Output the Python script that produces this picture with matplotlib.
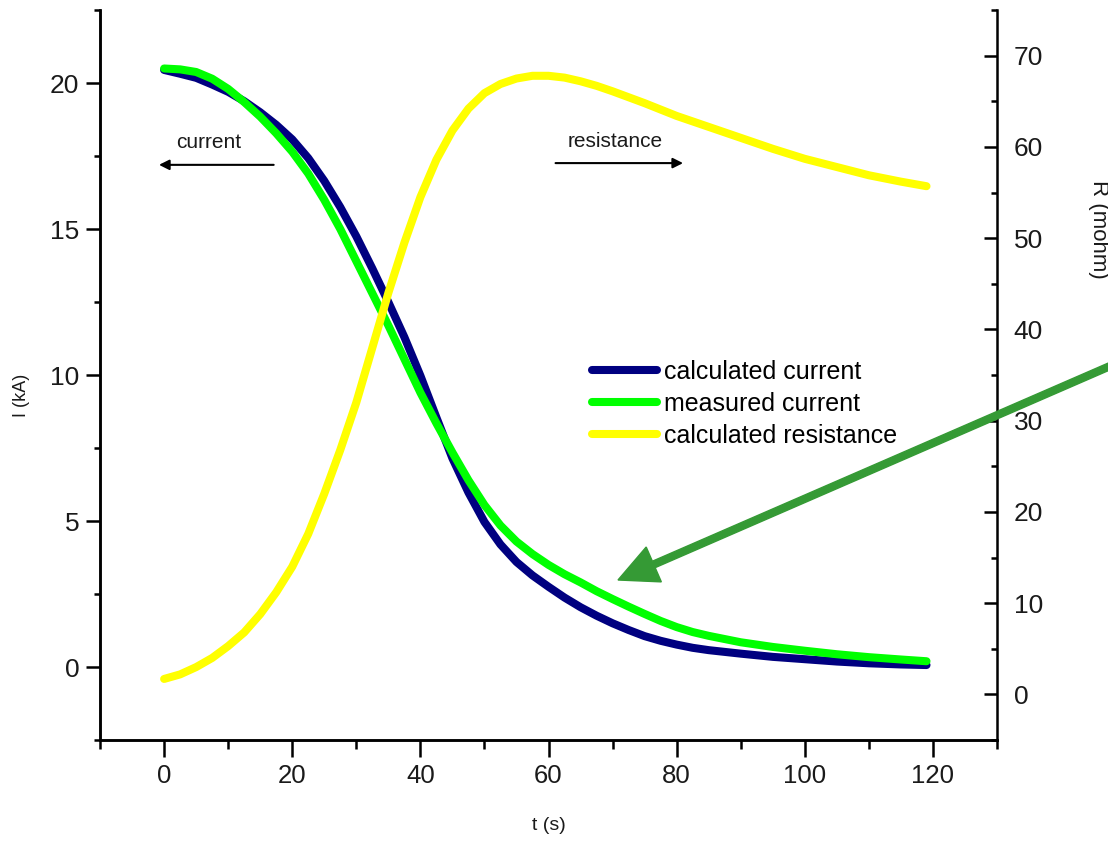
import matplotlib
matplotlib.use('Agg')
import matplotlib.pyplot as plt
from matplotlib.patches import FancyArrow
from matplotlib.transforms import IdentityTransform
from matplotlib.ticker import MultipleLocator

plt.rcParams['font.family'] = ['Liberation Sans', 'DejaVu Sans']

# ---- data ----
t_calc = [0, 2.5, 5, 7.5, 10, 12.5, 15, 17.5, 20, 22.5, 25, 27.5, 30, 32.5, 35,
          37.5, 40, 42.5, 45, 47.5, 50, 52.5, 55, 57.5, 60, 62.5, 65, 67.5, 70,
          72.5, 75, 77.5, 80, 82.5, 85, 90, 95, 100, 105, 110, 115, 119]
i_calc = [20.45, 20.32, 20.18, 19.95, 19.7, 19.38, 19.0, 18.57, 18.07, 17.43,
          16.65, 15.75, 14.75, 13.65, 12.5, 11.3, 9.98, 8.55, 7.15, 5.98, 4.97,
          4.2, 3.6, 3.14, 2.75, 2.38, 2.05, 1.76, 1.5, 1.27, 1.06, 0.9, 0.77,
          0.66, 0.58, 0.46, 0.35, 0.27, 0.19, 0.13, 0.09, 0.07]

t_meas = [0, 2.5, 5, 7.5, 10, 12.5, 15, 17.5, 20, 22.5, 25, 27.5, 30, 32.5, 35,
          37.5, 40, 42.5, 45, 47.5, 50, 52.5, 55, 57.5, 60, 62.5, 65, 67.5, 70,
          72.5, 75, 77.5, 80, 82.5, 85, 90, 95, 100, 105, 110, 115, 119]
i_meas = [20.5, 20.47, 20.38, 20.15, 19.8, 19.35, 18.85, 18.28, 17.65, 16.9,
          16.0, 15.0, 13.9, 12.8, 11.7, 10.55, 9.4, 8.35, 7.35, 6.4, 5.55, 4.85,
          4.3, 3.87, 3.5, 3.18, 2.9, 2.6, 2.33, 2.07, 1.82, 1.58, 1.37, 1.2,
          1.07, 0.85, 0.69, 0.56, 0.44, 0.34, 0.26, 0.2]

t_res = [0, 2.5, 5, 7.5, 10, 12.5, 15, 17.5, 20, 22.5, 25, 27.5, 30, 32.5, 35,
         37.5, 40, 42.5, 45, 47.5, 50, 52.5, 55, 57.5, 60, 62.5, 65, 67.5, 70,
         75, 80, 85, 90, 95, 100, 105, 110, 115, 119]
r_res = [1.7, 2.2, 3.0, 4.0, 5.3, 6.8, 8.8, 11.2, 14.0, 17.6, 22.0, 26.8, 32.0,
         38.0, 44.0, 49.5, 54.5, 58.6, 61.8, 64.2, 65.9, 66.9, 67.5, 67.8, 67.8,
         67.6, 67.2, 66.7, 66.1, 64.8, 63.4, 62.2, 61.0, 59.8, 58.7, 57.8, 56.9,
         56.2, 55.7]

labels = ['calculated current', 'measured current', 'calculated resistance']
colors = ['#000080', '#00ff00', '#ffff00']

fig = plt.figure(figsize=(11.08, 8.41), dpi=100)
ax = fig.add_axes([0.0903, 0.120, 0.8095, 0.868])
ax2 = ax.twinx()

kw = dict(lw=5.8, solid_capstyle='round', solid_joinstyle='round')
l1, = ax.plot(t_calc, i_calc, color=colors[0], zorder=2, **kw)
l2, = ax.plot(t_meas, i_meas, color=colors[1], zorder=3, **kw)
l3, = ax2.plot(t_res, r_res, color=colors[2], zorder=2, **kw)

ax.set_xlim(-10, 130)
ax.set_ylim(-2.5, 22.5)
ax2.set_ylim(-5, 75)

for a in (ax, ax2):
    a.spines['top'].set_visible(False)
    for s in ('left', 'right', 'bottom'):
        a.spines[s].set_linewidth(1.8)
ax.spines['right'].set_visible(False)

ax.xaxis.set_major_locator(MultipleLocator(20))
ax.xaxis.set_minor_locator(MultipleLocator(10))
ax.yaxis.set_major_locator(MultipleLocator(5))
ax.yaxis.set_minor_locator(MultipleLocator(2.5))
ax2.yaxis.set_major_locator(MultipleLocator(10))
ax2.yaxis.set_minor_locator(MultipleLocator(5))

tc = '#1a1a1a'
ax.tick_params(axis='x', which='major', direction='out', length=12, width=1.8,
               labelsize=18.5, pad=5, labelcolor=tc)
ax.tick_params(axis='x', which='minor', direction='out', length=6.5, width=1.8)
ax.tick_params(axis='y', which='major', direction='out', length=10, width=1.8,
               labelsize=19, pad=5, labelcolor=tc)
ax.tick_params(axis='y', which='minor', direction='out', length=4.5, width=1.8)
ax2.tick_params(axis='y', which='major', direction='in', length=9.5, width=1.8,
                labelsize=19, pad=12, labelcolor=tc)
ax2.tick_params(axis='y', which='minor', direction='in', length=4.5, width=1.8)

ax.set_xlabel('t (s)', fontsize=14, color=tc)
ax.xaxis.set_label_coords(0.5, -0.106)
ax.set_ylabel('I (kA)', fontsize=13, color=tc)
ax.yaxis.set_label_coords(-0.078, 0.4726)
ax2.set_ylabel('R (mohm)', fontsize=16, color=tc, rotation=270, va='bottom')
ax2.yaxis.set_label_coords(1.1014, 0.699)

# direction annotations
ax.annotate('', xy=(-0.8, 17.2), xytext=(17.1, 17.2),
            arrowprops=dict(arrowstyle='-|>', color='black', lw=1.5,
                            mutation_scale=15, shrinkA=0, shrinkB=0))
ax.text(7.0, 17.95, 'current', ha='center', va='center', fontsize=15, color=tc)
ax.annotate('', xy=(81, 17.26), xytext=(61.1, 17.26),
            arrowprops=dict(arrowstyle='-|>', color='black', lw=1.5,
                            mutation_scale=15, shrinkA=0, shrinkB=0))
ax.text(70.4, 18.0, 'resistance', ha='center', va='center', fontsize=15, color=tc)

ax2.legend([l1, l2, l3], labels, loc='upper left',
           bbox_to_anchor=(0.534, 0.572), bbox_transform=fig.transFigure,
           frameon=False, fontsize=18, handlelength=2.6, handletextpad=0.3,
           labelspacing=0.32, borderpad=0, borderaxespad=0)

# big green pointer arrow (figure pixel coordinates)
H = 841
arrow = FancyArrow(1130, H - 357.4, -512, -(580 - 357.4), width=7,
                   head_width=38, head_length=39, length_includes_head=True,
                   transform=IdentityTransform(), color='#359a35', zorder=10)
fig.add_artist(arrow)

fig.savefig('out.png', dpi=100)
